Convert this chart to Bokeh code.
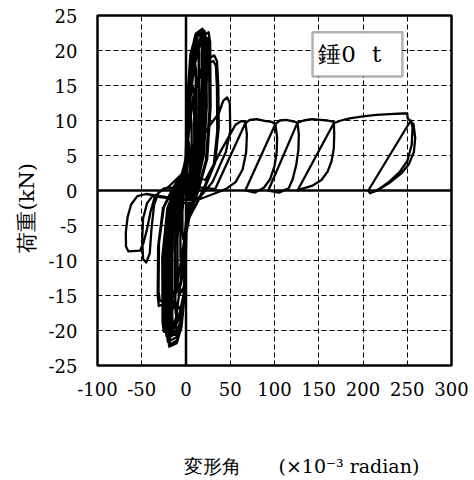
from bokeh.embed import file_html
from bokeh.models import BoxAnnotation, FixedTicker, Label, Range1d, Span, Title
from bokeh.plotting import figure
from bokeh.resources import INLINE

# Axis ticks and their labels
x_ticks = [-100, -50, 0, 50, 100, 150, 200, 250, 300]
x_tick_labels = ["-100", "-50", "0", "50", "100", "150", "200", "250", "300"]
y_ticks = [-25, -20, -15, -10, -5, 0, 5, 10, 15, 20, 25]
y_tick_labels = ["-25", "-20", "-15", "-10", "-5", "0", "5", "10", "15", "20", "25"]

# Load history (deformation angle x10^-3 rad, load kN), one list pair per cycle
cyc01_x = [0, 1.2, 2.3, 3, 4, 4, 2.5, 1.5, 0.3, -1.2, -3, -4, -4, -2.5, -1.2]
cyc01_y = [0, 3.5, 6, 7, 6, 3, 0.5, -2, -4, -6, -7, -6, -3, -0.5, 1.5]

cyc02_x = [-0.3, 1.2, 3, 5, 6.3, 6.5, 4.5, 2.5, 1, -0.3, -2, -5, -6.3, -6.3, -4.5, -2.5, -1]
cyc02_y = [3.5, 6.5, 9.5, 11, 9.5, 5, 1.2, -1.8, -4.5, -7, -9.8, -11, -9.5, -5, -1.2, 1, 2.5]

cyc03_x = [0, 1, 2.5, 5, 7.5, 9, 9.3, 7, 4, 2, 0.5, -0.3, -2.5, -8, -9.5, -9.6, -7, -4, -1.5]
cyc03_y = [3.5, 7, 11, 14, 15, 13.5, 7, 2, -1, -3.8, -6, -10, -13.8, -15, -13.5, -7, -2, 0.5, 2.5]

cyc04_x = [0, 1, 3, 6, 10, 11.5, 12, 9.5, 5, 2, 0.5, -0.3, -1, -4.5, -11, -12.5, -12.8, -10, -6, -2]
cyc04_y = [5, 10, 15, 18, 18.5, 17, 9, 3, -0.8, -3.8, -6, -10, -14, -17.2, -18, -16.5, -8.5, -2.5, 0.3, 2.5]

cyc04b_x = [-0.3, 0.8, 2.7, 5.5, 9.5, 11, 11.5, 9, 4.8, 2, 0.3, -0.6, -1.3, -4.5, -10.5, -12, -12.3, -9.5, -5.5, -2]
cyc04b_y = [5, 10, 15, 17.2, 17.5, 16.2, 8.5, 2.8, -0.8, -3.7, -6, -10, -13.5, -16.4, -17, -15.7, -8, -2.3, 0.3, 2.5]

cyc05_x = [0, 1.2, 3, 5.5, 9, 13, 14.8, 15.2, 12.5, 7, 2, 0.5, -0.3, -1.2, -3.5, -7, -14, -15.5, -15.8, -12.5, -7.5, -2.5]
cyc05_y = [5, 10, 15, 19.5, 21, 21.3, 19.8, 10, 3.5, 0, -3.8, -6, -10, -14, -17.5, -19.3, -19.8, -18.3, -9, -2.5, 0.3, 2.5]

cyc05b_x = [-0.3, 0.8, 2.5, 5, 8.5, 12.6, 14.3, 14.6, 12, 6.5, 2, 0.3, -0.6, -1.5, -4, -8, -15, -16.5, -16.8, -13, -8, -2.5]
cyc05b_y = [5, 10, 15, 19.5, 21.1, 21.4, 20, 9.5, 3.2, 0, -3.6, -6, -10, -14, -17.8, -19.8, -20.3, -18.8, -9, -2.3, 0.3, 2.5]

cyc06_x = [0, 1.5, 3.5, 6, 10, 16, 17.8, 18.2, 15, 8, 2, 0.5, -0.3, -1.2, -4, -9, -17, -18.6, -19, -15, -9, -3]
cyc06_y = [5, 10, 15, 19.5, 21.8, 22.4, 21, 11, 4, 0, -3.8, -6, -10, -14.5, -18.2, -20.3, -20.8, -19.2, -9.5, -2.5, 0.3, 2.5]

cyc06b_x = [0.2, 1.6, 3.6, 6.2, 10.5, 17, 18.8, 19.3, 16, 8.5, 2, 0.3, -0.5, -1.5, -4.5, -10, -18, -19.6, -20, -16, -9.5, -3]
cyc06b_y = [5, 10, 15, 19.8, 22.2, 22.8, 21.5, 11, 4.2, 0, -3.7, -6, -10, -14.8, -18.8, -21.4, -22, -20.4, -10, -2.5, 0.3, 2.5]

cyc06c_x = [0, 3, 7, 13, 18, 20, 17, 11, 6, 2, -2, -6, -11, -19, -21, -20, -14, -8, -3]
cyc06c_y = [5, 12, 18, 22, 22.6, 21.5, 12, 5, 1, -3.8, -8, -13, -18, -21.5, -20, -12, -5, -1, 2.5]

cyc07_x = [0.3, 1.8, 4, 6.5, 11, 18.6, 20.5, 21.5, 19, 10, 2, 0.5, -0.3, -1.5, -5, -11, -20.5, -22, -22.5, -17.5, -10, -3.5]
cyc07_y = [5, 10, 15, 19.8, 22.4, 23.1, 22, 12, 5, 0, -3.8, -6, -10, -15, -19, -21, -21.6, -20, -10, -2.5, 0.3, 2.6]

cyc07b_x = [0.5, 2, 4.5, 7.5, 13, 21, 22.8, 23.5, 20, 11, 2, 0.3, -0.5, -2, -6, -12, -22, -23.5, -24, -18.5, -11, -3.5]
cyc07b_y = [5, 10, 15, 19.8, 22.3, 22.8, 21.5, 12, 5, 0, -3.8, -6, -10, -15, -18.8, -20.3, -20.8, -19.3, -9.8, -2.4, 0.3, 2.6]

cyc07c_x = [0, 1.5, 3.8, 6.3, 11.5, 19.5, 21.2, 22, 19.5, 10.5, 2, 0.3, -0.6, -1.8, -5, -10.5, -19, -20.5, -21, -16.5, -9.5, -3.5]
cyc07c_y = [5, 10, 15, 19.8, 22.4, 22.9, 21.8, 12, 5, 0, -3.8, -6, -10, -15, -19.5, -21.8, -22.3, -20.8, -10, -2.5, 0.3, 2.6]

cyc08_x = [0.5, 2.5, 5, 9, 16, 25.5, 27.3, 27.8, 24, 14, 3, 0.5, -0.5, -2.5, -7, -14, -25, -26.5, -26.8, -21, -12, -4]
cyc08_y = [5, 10, 15, 19.5, 21.8, 22.6, 21.2, 12, 4.5, 0, -3.8, -6, -10, -15, -18.3, -19.7, -20.2, -18.8, -9.5, -2.5, 0.3, 2.6]

cyc08b_x = [0.8, 3, 6, 10, 17, 24, 26, 26.5, 22.5, 13, 3, 0.3, -0.8, -3, -8, -14, -23.5, -25, -25.3, -20, -12, -4]
cyc08b_y = [5, 10, 15, 19, 21.2, 21.8, 20.5, 11.5, 4.3, 0, -3.8, -6, -10, -15, -18, -19.2, -19.6, -18.2, -9, -2.4, 0.3, 2.6]

cyc08c_x = [0.5, 4, 9, 16, 23, 25, 22, 15, 8, 2.5, -2.5, -8, -14, -24, -26, -24.5, -18, -10, -4]
cyc08c_y = [5, 12, 17.5, 21, 21.5, 20.5, 11, 4.5, 1, -3.8, -7.5, -12, -16.5, -20, -18.5, -10, -4, -0.8, 2.6]

cyc09_x = [1, 4, 9, 16, 24, 32, 35, 36.5, 37, 33, 20, 4, 0.5, -1, -6, -18, -30.7, -32, -31.5, -26, -15, -4.5]
cyc09_y = [5, 10, 14, 17, 18.8, 19.3, 18.5, 15, 9, 4, 0, -3.8, -6, -10, -13.5, -15.8, -16.5, -15, -8, -2.5, 0.3, 2.5]

cyc09b_x = [1, 4.5, 9.5, 16.5, 24, 31, 33.8, 35, 35.3, 31.5, 19, 4, 0.3, -1.2, -6.5, -18, -29.5, -31, -30.5, -25, -14, -4.5]
cyc09b_y = [5, 10, 13.8, 16.5, 18.1, 18.5, 17.8, 14.5, 8.5, 3.8, 0, -3.8, -6, -10, -13.2, -15.2, -15.8, -14.4, -7.5, -2.4, 0.3, 2.5]

cyc10_x = [2, 15, 28, 37, 42, 46.5, 49.5, 50, 45, 39, 30, 18, 5, -10, -25, -38, -44, -48.5,
           -49.5, -48.5, -45, -41, -39, -36, -31, -20, -5]
cyc10_y = [4.5, 7, 9.5, 11, 12.8, 13.3, 12.5, 8.5, 5.5, 3.8, 1.2, -0.6, -2, -1.5, -1, -0.8, -1.8, -4,
           -7, -9.8, -10.3, -9, -5.5, -2, -0.3, 0.5, 2.3]

cyc11_x = [10, 22, 40, 56, 62, 67, 68.8, 68, 64, 56, 45, 33, 10, -20, -45, -55, -62, -66, -68, -67.8,
           -65, -52, -48, -44, -40, -35, -25, 0, 20, 33]
cyc11_y = [2, 1.5, 5.8, 9.4, 9.9, 9.8, 8, 5.5, 3, 1.2, 0.2, -0.4, -1.5, -1, -0.5, -0.8, -2, -3.8, -6, -8,
           -8.7, -8.6, -7.5, -5.5, -3, -0.8, 0.3, 0.6, 0.4, 0.2]

cyc12_x = [67, 72, 80, 90, 97, 101, 103, 102.5, 100, 95, 88, 78, 67]
cyc12_y = [9.6, 10.1, 10.2, 9.9, 9.8, 9.5, 7.5, 5.5, 3.5, 1.6, 0.4, -0.3, 0]

cyc13_x = [101, 106, 113, 120, 126, 127.5, 127, 124.5, 120.5, 116, 105, 93]
cyc13_y = [9.5, 10, 10.1, 9.9, 9.7, 8, 5.8, 3.6, 1.6, 0.3, -0.3, 0]

cyc14_x = [126, 133, 142, 152, 160, 167, 167.5, 167, 164.5, 160, 153, 143, 130, 126]
cyc14_y = [9.7, 10, 10.2, 10.1, 10, 9.8, 8, 6, 4.2, 2.7, 1.5, 0.7, 0.2, 0]

cyc15_x = [167, 175, 185, 200, 215, 230, 245, 250, 250.5, 257, 259, 257.5, 252, 243, 230, 216, 208, 206]
cyc15_y = [9.6, 10, 10.3, 10.6, 10.8, 10.9, 11, 11, 10.3, 9.5, 7.5, 5.5, 3.8, 2.4, 1.1, 0, -0.4, 0]

cyc16_x = [254, 256, 255, 250, 241, 230, 218, 212]
cyc16_y = [10, 9, 6.5, 4.2, 2.6, 1.3, 0.2, -0.2]

cycles_x = [cyc01_x, cyc02_x, cyc03_x, cyc04_x, cyc04b_x, cyc05_x, cyc05b_x, cyc06_x, cyc06b_x,
            cyc06c_x, cyc07_x, cyc07b_x, cyc07c_x, cyc08_x, cyc08b_x, cyc08c_x, cyc09_x, cyc09b_x,
            cyc10_x, cyc11_x, cyc12_x, cyc13_x, cyc14_x, cyc15_x, cyc16_x]
cycles_y = [cyc01_y, cyc02_y, cyc03_y, cyc04_y, cyc04b_y, cyc05_y, cyc05b_y, cyc06_y, cyc06b_y,
            cyc06c_y, cyc07_y, cyc07b_y, cyc07c_y, cyc08_y, cyc08b_y, cyc08c_y, cyc09_y, cyc09b_y,
            cyc10_y, cyc11_y, cyc12_y, cyc13_y, cyc14_y, cyc15_y, cyc16_y]

path_x = [v for c in cycles_x for v in c]
path_y = [v for c in cycles_y for v in c]

SERIF = "DejaVu Serif"

p = figure(
    width=474, height=480,
    x_range=Range1d(-100, 300), y_range=Range1d(-25, 25),
    output_backend="svg", toolbar_location=None,
    min_border_left=97, min_border_right=23,
    min_border_top=15, min_border_bottom=115,
    background_fill_color="white", border_fill_color="white",
)

# dashed grid
for g, ticks in ((p.xgrid, x_ticks), (p.ygrid, y_ticks)):
    g.ticker = FixedTicker(ticks=ticks)
    g.grid_line_color = "black"
    g.grid_line_width = 1
    g.grid_line_dash = "5 3"

# axes: labels only, the frame outline acts as the axis line
for ax, ticks, labels in ((p.xaxis, x_ticks, x_tick_labels), (p.yaxis, y_ticks, y_tick_labels)):
    ax.ticker = FixedTicker(ticks=ticks)
    ax.major_label_overrides = {t: s for t, s in zip(ticks, labels)}
    ax.axis_line_color = None
    ax.major_tick_line_color = None
    ax.minor_tick_line_color = None
    ax.major_tick_out = 0
    ax.major_tick_in = 0
    ax.major_label_text_font = SERIF
    ax.major_label_text_font_size = "18px"
    ax.major_label_text_color = "black"
p.xaxis.major_label_standoff = 16
p.yaxis.major_label_standoff = 20

p.outline_line_color = "black"
p.outline_line_width = 2.5
p.outline_line_alpha = 1

# zero lines
p.add_layout(Span(location=0, dimension="height", line_color="black", line_width=2.5))
p.add_layout(Span(location=0, dimension="width", line_color="black", line_width=2.5))

# hysteresis curve
p.line(path_x, path_y, line_color="black", line_width=2.3, line_join="round")

# specimen tag
p.add_layout(BoxAnnotation(left=143, right=244.5, top=22.6, bottom=16.3,
                           fill_color="white", fill_alpha=1,
                           line_color="black", line_width=2.5))
p.add_layout(Label(x=149.5, y=19.5, text="錘0\u2002\u2009t", text_baseline="middle",
                   text_font=SERIF, text_font_size="23px", text_color="black"))

# axis titles
p.add_layout(Title(text="荷重(kN)", align="left", offset=113, standoff=14,
                   text_font=SERIF, text_font_size="21px", text_font_style="normal",
                   text_color="black"), "left")
# blank spacer row below the tick labels, then the x title
p.add_layout(Title(text=" ", standoff=50, text_font_size="1px"), "below")
p.add_layout(Title(text="変形角\u3000\u3000(×10⁻³ radian)", align="left", offset=86, standoff=2,
                   text_font=SERIF, text_font_size="19px", text_font_style="normal",
                   text_color="black"), "below")

open("out.html", "w").write(file_html(p, INLINE))
